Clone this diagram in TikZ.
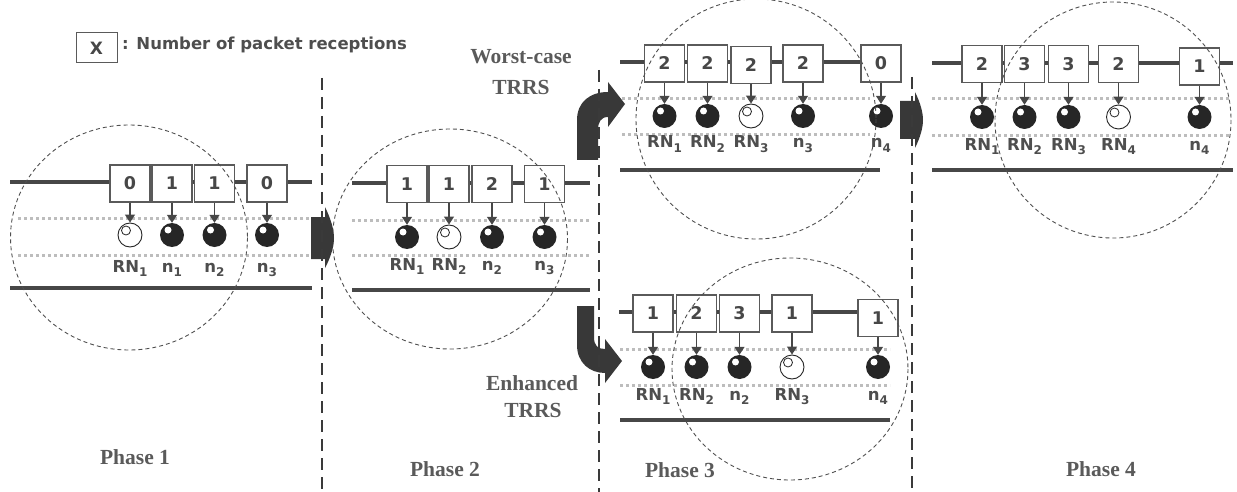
\documentclass[tikz,border=0pt]{standalone}
\usepackage{fontspec}
\setmainfont{Liberation Serif}
\newfontfamily\vf{DejaVu Sans}
\usetikzlibrary{arrows.meta}
\definecolor{busc}{HTML}{474747}
\definecolor{dotc}{HTML}{BDBDBD}
\definecolor{sepc}{HTML}{3A3A3A}
\definecolor{zonec}{HTML}{505050}
\definecolor{boxc}{HTML}{5A5A5A}
\definecolor{ballc}{HTML}{262626}
\definecolor{txtc}{HTML}{4E4E4E}
\definecolor{ttlc}{HTML}{5A5A5A}
\definecolor{arrc}{HTML}{383838}
\newcommand\lsub[1]{\raisebox{-4.5pt}{\fontsize{12}{12}\selectfont #1}}
% name, x, ybox, yball, ylabel, value, ball style, label
\newcommand\slot[8]{%
  \node[pbox] (#1b) at (#2,#3) {#6};
  \node[#7] (#1c) at (#2,#4) {};
  \node[lab] (#1l) at (#2,#5) {#8};
  \draw[parr] (#1b) -- (#1c);
}
\begin{document}
\begin{tikzpicture}[x=1pt,y=-1pt,
  bus/.style={line width=3.5pt, draw=busc},
  dots/.style={line width=3pt, draw=dotc, dash pattern=on 3pt off 3pt},
  sep/.style={line width=2.5pt, draw=sepc, dash pattern=on 12pt off 7pt},
  zone/.style={draw=zonec, line width=0.9pt, dash pattern=on 4pt off 3pt},
  pbox/.style={draw=boxc, line width=1.3pt, fill=white, minimum width=40pt,
    minimum height=37pt, inner sep=0pt, text=busc,
    font=\vf\bfseries\fontsize{17.5}{17.5}\selectfont},
  fball/.style={circle, fill=ballc, minimum size=24pt, inner sep=0pt,
    path picture={\fill[white] ([xshift=-4pt,yshift=5pt]path picture bounding box.center) circle (3.5pt);}},
  hball/.style={circle, draw=ballc, line width=0.9pt, fill=white, minimum size=24pt, inner sep=0pt,
    path picture={\draw[ballc, line width=0.8pt] ([xshift=-4pt,yshift=4.5pt]path picture bounding box.center) circle (4.5pt);}},
  parr/.style={draw=busc, line width=1.3pt, -{Triangle[width=10pt,length=8pt]}},
  lab/.style={anchor=base, inner sep=0pt, text=txtc, font=\vf\bfseries\fontsize{16.5}{16.5}\selectfont},
  ttl/.style={inner sep=0pt, text=ttlc, font=\bfseries\fontsize{21.5}{21.5}\selectfont},
  bigarr/.style={fill=arrc}
]
\useasboundingbox (0,0) rectangle (1237,492);

% legend
\node[draw=boxc, line width=1pt, minimum width=41pt, minimum height=30pt, inner sep=0pt,
  text=busc, font=\vf\bfseries\fontsize{17}{17}\selectfont] (key) at (96.5,48) {X};
\node[anchor=base west, inner sep=0pt, text=txtc, font=\vf\bfseries\fontsize{16.5}{16.5}\selectfont]
  (keytxt) at (122,50) {: Number of packet receptions};

% ---------- bus and dotted lines ----------
\draw[bus] (10,182) -- (312,182);
\draw[bus] (10,288) -- (312,288);
\draw[dots] (18,218) -- (312,218);
\draw[dots] (18,255) -- (312,255);

\draw[bus] (352,183) -- (590,183);
\draw[bus] (352,290) -- (590,290);
\draw[dots] (352,220) -- (590,220);
\draw[dots] (352,255) -- (590,255);

\draw[bus] (620,62) -- (860,62);
\draw[bus] (620,170) -- (880,170);
\draw[dots] (622,99) -- (870,99);
\draw[dots] (622,135) -- (870,135);

\draw[bus] (619,312) -- (860,312);
\draw[bus] (620,420) -- (890,420);
\draw[dots] (620,349) -- (890,349);
\draw[dots] (620,385) -- (890,385);

\draw[bus] (932,63) -- (1233,63);
\draw[bus] (932,170) -- (1233,170);
\draw[dots] (932,99) -- (1230,99);
\draw[dots] (932,136) -- (1230,136);

% ---------- Phase 1 ----------
\slot{p1a}{130}{183.5}{235}{272}{0}{hball}{RN\lsub1}
\slot{p1b}{172}{183.5}{235}{272}{1}{fball}{n\lsub1}
\slot{p1c}{214.5}{183.5}{235}{272}{1}{fball}{n\lsub2}
\slot{p1d}{267}{183.5}{235}{272}{0}{fball}{n\lsub3}

% ---------- Phase 2 ----------
\slot{p2a}{407}{184}{237}{270}{1}{fball}{RN\lsub1}
\slot{p2b}{449}{184}{237}{270}{1}{hball}{RN\lsub2}
\slot{p2c}{492}{184}{237}{270}{2}{fball}{n\lsub2}
\slot{p2d}{544.5}{184}{237}{270}{1}{fball}{n\lsub3}

% ---------- Phase 3, worst case ----------
\slot{p3a}{664.5}{63.5}{116}{148}{2}{fball}{RN\lsub1}
\slot{p3b}{707.5}{63.5}{116}{148}{2}{fball}{RN\lsub2}
\slot{p3c}{751}{65}{116}{148}{2}{hball}{RN\lsub3}
\slot{p3d}{803}{63.5}{116}{148}{2}{fball}{n\lsub3}
\slot{p3e}{881}{63.5}{116}{148}{0}{fball}{n\lsub4}

% ---------- Phase 3, enhanced ----------
\slot{q3a}{653}{313.5}{367}{400}{1}{fball}{RN\lsub1}
\slot{q3b}{696.5}{313.5}{367}{400}{2}{fball}{RN\lsub2}
\slot{q3c}{739.5}{313.5}{367}{400}{3}{fball}{n\lsub2}
\slot{q3d}{792}{313.5}{367}{400}{1}{hball}{RN\lsub3}
\slot{q3e}{878}{318}{367}{400}{1}{fball}{n\lsub4}

% ---------- Phase 4 ----------
\slot{p4a}{982}{64}{117}{150}{2}{fball}{RN\lsub1}
\slot{p4b}{1024.5}{64}{117}{150}{3}{fball}{RN\lsub2}
\slot{p4c}{1068.5}{64}{117}{150}{3}{fball}{RN\lsub3}
\slot{p4d}{1118.5}{64}{117}{150}{2}{hball}{RN\lsub4}
\slot{p4e}{1199.5}{66.5}{117}{150}{1}{fball}{n\lsub4}

% ---------- dashed ranges ----------
\draw[zone] (129,237.5) ellipse [x radius=118.5, y radius=112.5];
\draw[zone] (450,239) ellipse [x radius=117.5, y radius=110];
\draw[zone] (756,119) circle [radius=120];
\draw[zone] (790,369) ellipse [x radius=118, y radius=111];
\draw[zone] (1113,120) circle [radius=118];

% ---------- big arrows ----------
\fill[bigarr] (311,217) -- (325,217) -- (325,207)
  .. controls (331,219) and (334,230) .. (334,238)
  .. controls (334,246) and (331,257) .. (325,268)
  -- (325,259) -- (311,259) -- cycle;
\fill[bigarr] (900,101) -- (915,101) -- (915,92)
  .. controls (920,102) and (923,112) .. (923,120)
  .. controls (923,128) and (920,138) .. (915,148)
  -- (915,139) -- (900,139) -- cycle;
\fill[bigarr] (577,160) -- (577,120) .. controls (577,102) and (590,92) .. (608,92)
  -- (608,82) -- (625,104) -- (608,127) -- (608,117)
  .. controls (601,117) and (598,122) .. (598,130) -- (598,160) -- cycle;
\fill[bigarr] (577,306) -- (577,345) .. controls (577,363) and (590,373) .. (605,373)
  -- (605,383) -- (622,361) -- (605,339) -- (605,349)
  .. controls (598,349) and (594,346) .. (594,337) -- (594,306) -- cycle;

% ---------- phase separators ----------
\draw[sep] (322,78) -- (322,492);
\draw[sep] (599,70) -- (599,492);
\draw[sep] (912,77) -- (912,492);

% ---------- titles ----------
\node[ttl] (wc1) at (521,57) {Worst-case};
\node[ttl] (wc2) at (521,87) {TRRS};
\node[ttl] (en1) at (532,383) {Enhanced};
\node[ttl] (en2) at (533,410) {TRRS};
\node[ttl] (ph1) at (135,457) {Phase 1};
\node[ttl] (ph2) at (445,469) {Phase 2};
\node[ttl] (ph3) at (680,470) {Phase 3};
\node[ttl] (ph4) at (1101,469) {Phase 4};
\end{tikzpicture}
\end{document}
